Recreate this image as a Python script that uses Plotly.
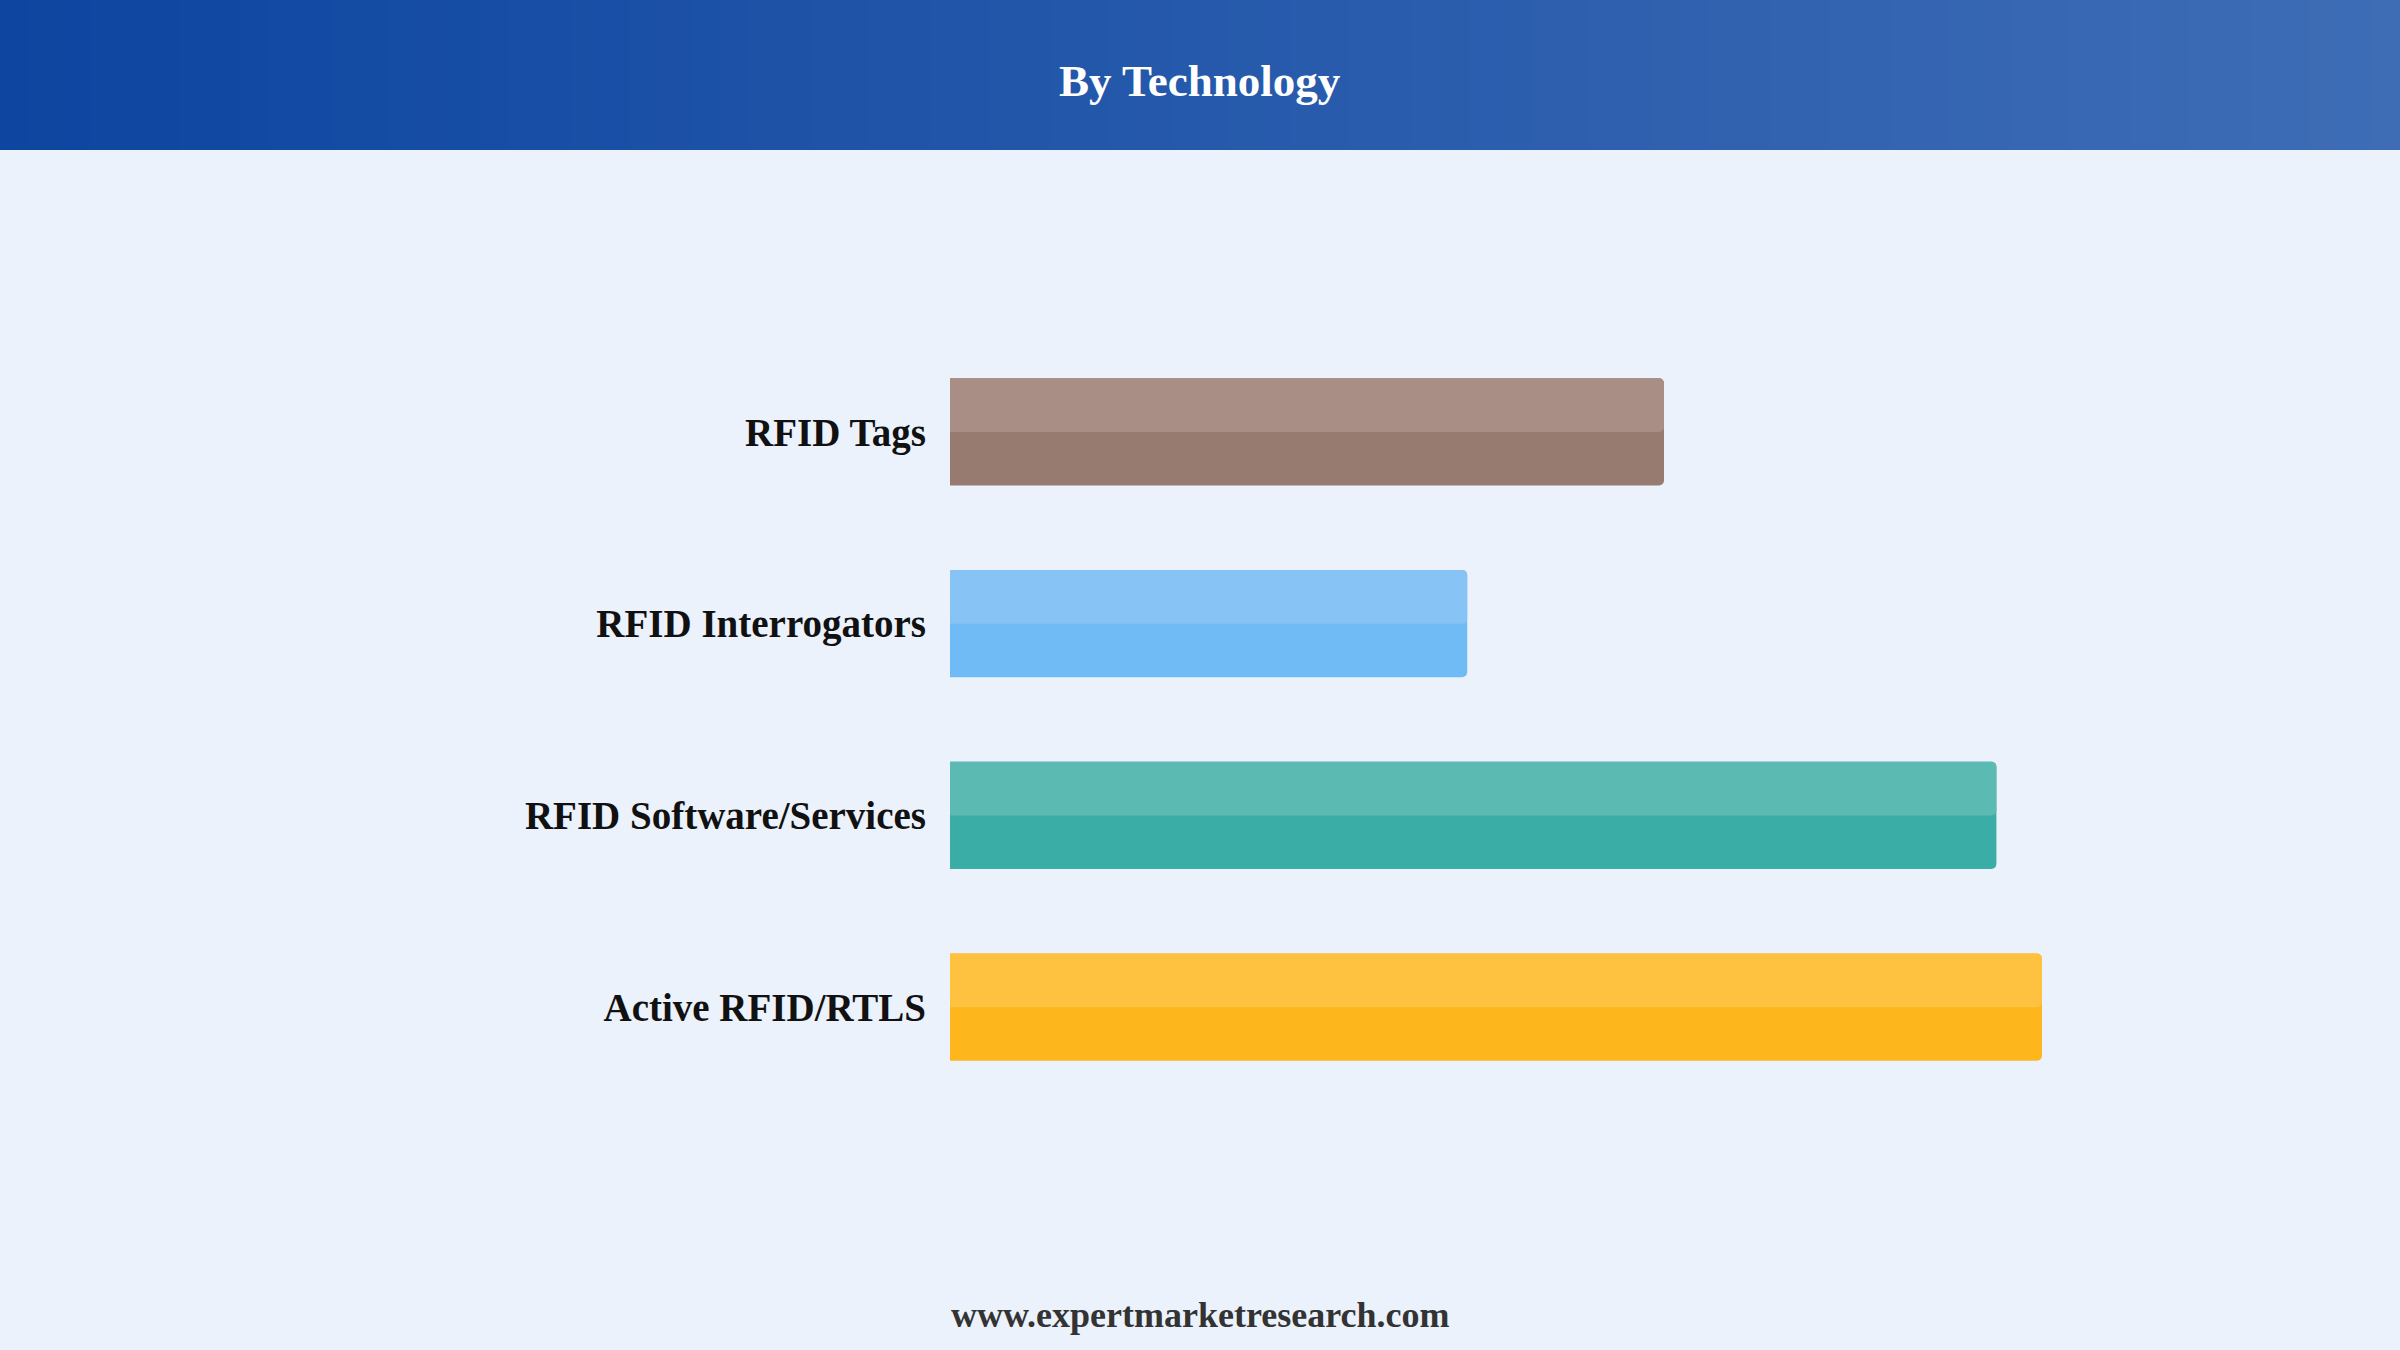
import plotly.graph_objects as go

categories = ["RFID Tags", "RFID Interrogators", "RFID Software/Services", "Active RFID/RTLS"]
values = [59.5, 43.1, 87.2, 91.0]
top_colors = ["#A88E85", "#87C4F5", "#5BBAB2", "#FEC240"]
bottom_colors = ["#977B71", "#70BAF5", "#3AAEA6", "#FDB71D"]
title_text = "By Technology"
footer_text = "www.expertmarketresearch.com"

W, H = 2400, 1350
ML, MR, MT, MB = 950, 250, 336, 247
PW, PH = W - ML - MR, H - MT - MB


def px_x(px):
    return (px - ML) / PW


def px_y(py):
    return (H - MB - py) / PH


SERIF = "Liberation Serif, Times New Roman, serif"

fig = go.Figure()
fig.add_trace(go.Bar(
    y=categories, x=values, orientation="h", width=0.56,
    marker=dict(color=bottom_colors, line=dict(width=0), cornerradius=5),
    hoverinfo="skip", showlegend=False,
))
fig.add_trace(go.Bar(
    y=categories, x=values, orientation="h", width=0.28, offset=-0.28,
    marker=dict(color=top_colors, line=dict(width=0), cornerradius=5),
    hoverinfo="skip", showlegend=False,
))

# header gradient strips
c0 = (0x0D, 0x45, 0xA0)
c1 = (0x3E, 0x6D, 0xB6)
n = 80
shapes = []
for i in range(n):
    t = i / (n - 1)
    col = "rgb(%d,%d,%d)" % tuple(round(a + (b - a) * t) for a, b in zip(c0, c1))
    x0 = W * i / n
    x1 = W * (i + 1) / n + 1
    shapes.append(dict(type="rect", xref="paper", yref="paper",
                       x0=px_x(x0), x1=px_x(x1), y0=px_y(150), y1=px_y(0),
                       fillcolor=col, line=dict(width=0), layer="below"))

fig.update_layout(
    width=W, height=H,
    margin=dict(l=ML, r=MR, t=MT, b=MB),
    paper_bgcolor="#EBF2FC", plot_bgcolor="rgba(0,0,0,0)",
    barmode="overlay",
    shapes=shapes,
    xaxis=dict(range=[0, 100], visible=False, fixedrange=True),
    yaxis=dict(autorange="reversed", showgrid=False, zeroline=False, showline=False,
               ticks="", ticklabelstandoff=23, fixedrange=True,
               tickfont=dict(family=SERIF, size=39, color="#111111", weight="bold")),
    annotations=[
        dict(text="<b>%s</b>" % title_text, xref="paper", yref="paper",
             x=px_x(1200), y=px_y(81), xanchor="center", yanchor="middle", showarrow=False,
             font=dict(family=SERIF, size=45, color="white")),
        dict(text="<b>%s</b>" % footer_text, xref="paper", yref="paper",
             x=px_x(1200), y=px_y(1315), xanchor="center", yanchor="middle", showarrow=False,
             font=dict(family=SERIF, size=36, color="#333333")),
    ],
)

fig.write_html("out.html", config={"displayModeBar": False},
               post_script="document.body.style.margin='0';document.body.style.overflow='hidden';")
